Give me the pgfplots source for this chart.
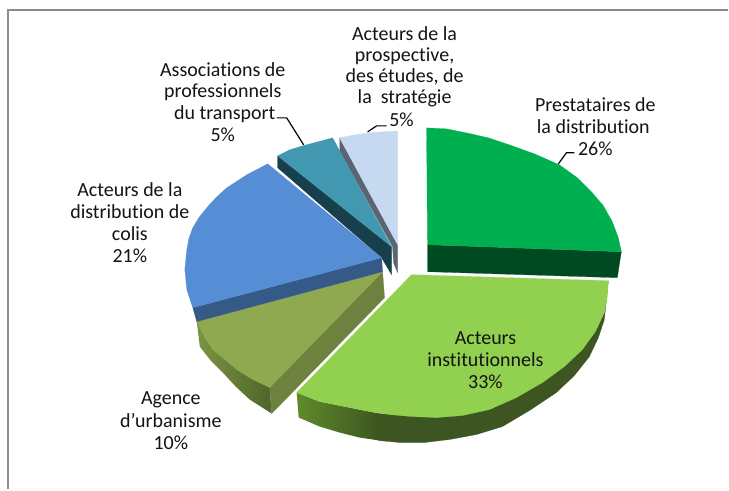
\documentclass[border=0pt]{standalone}
\usepackage{pgfplots}
\pgfplotsset{compat=1.18}
\usepackage{fontspec}
\setmainfont{Carlito}[RawFeature={-liga;-clig}]
\definecolor{cGreen}{HTML}{00B050}
\definecolor{cGreenD}{HTML}{004A22}
\definecolor{cLime}{HTML}{92D050}
\definecolor{cLimeD}{HTML}{3D5520}
\definecolor{cLimeL}{HTML}{5F8A2B}
\definecolor{cOlive}{HTML}{8EA950}
\definecolor{cOliveS}{HTML}{6F813F}
\definecolor{cOliveA}{HTML}{7A9444}
\definecolor{cOliveB}{HTML}{4F652B}
\definecolor{cBlue}{HTML}{558ED5}
\definecolor{cBlueD}{HTML}{355A87}
\definecolor{cTeal}{HTML}{4298B0}
\definecolor{cTealD}{HTML}{17404C}
\definecolor{cSky}{HTML}{C6D9F1}
\definecolor{cGray}{HTML}{5A6472}
\definecolor{cFrame}{HTML}{8C8C8C}
\definecolor{cText}{HTML}{141414}
\newcommand{\lab}[3]{\node[text=cText,font=\fontsize{20}{22}\selectfont,anchor=center,inner sep=0pt] at (axis cs:#1,#2) {#3};}
\begin{document}
\begin{tikzpicture}
\begin{axis}[width=729pt,height=490pt,scale only axis,hide axis,
 xmin=0,xmax=729,ymin=0,ymax=490,y dir=reverse,clip=false]
% page
\addplot[fill=white,draw=none] coordinates {(0,0)(729,0)(729,490)(0,490)} --cycle;
% frame
\addplot[cFrame,line width=1.6pt] coordinates {(8,490)(8,10)(729,10)};
% sky blue slice
\addplot[fill=cGray,draw=cGray,line width=.2pt] coordinates {(340,138)(340,151)(393,247)(394,263)(398,273)(398,245)} --cycle;
\addplot[fill=cSky,draw=cSky,line width=.2pt] coordinates {(340,138)(355,135)(368,133)(383,132)(398,131)(398,245)} --cycle;
% teal slice
\addplot[fill=cTealD,draw=cTealD,line width=.2pt] coordinates {(278,156)(278,168)(382,258)(392,275)(392,247)} --cycle;
\addplot[fill=cTeal,draw=cTeal,line width=.2pt] coordinates {(278,156)(290,150)(303,146)(318,142)(333,138)(392,247)} --cycle;
% olive slice
\addplot[draw=none,left color=cOliveA,right color=cOliveB] coordinates {(197,322)(200,347)(211,361)(223,373)(236,387)(250,400)(272,414)(270,388)} --cycle;
\addplot[fill=cOliveS,draw=cOliveS,line width=.2pt] coordinates {(383,272)(385,298)(272,414)(270,388)} --cycle;
\addplot[fill=cOlive,draw=cOlive,line width=.2pt] coordinates {(197,322)(205,338)(213,350)(225,360)(237,370)(253,380)(270,388)(383,272)} --cycle;
% blue slice
\addplot[fill=cBlueD,draw=cBlueD,line width=.2pt] coordinates {(193,308)(197,322)(383,272)(382,258)} --cycle;
\addplot[fill=cBlue,draw=cBlue,line width=.2pt] coordinates {(268,164)(247,175)(227,188)(216,198)(207,208)(199,218)(193,228)(189,239)(187,250)(185,270)(187,290)(193,308)(382,258)} --cycle;
% lime slice
\addplot[draw=none,left color=cLimeL,right color=cLimeD] coordinates {(297,393)(299,418)(320,427)(340,433)(360,438)(380,441)(380,414)(350,408)(320,402)} --cycle;
\addplot[fill=cLimeD,draw=cLimeD,line width=.2pt] coordinates {(379,414)(379,441)(400,443)(425,443)(450,440)(477,435)(503,427)(530,411)(557,393)(575,376)(590,357)(599,338)(605,320)(609,281)(605,313)(583,350)(543,383)(490,410)(437,418)} --cycle;
\addplot[fill=cLime,draw=cLime,line width=.2pt] coordinates {(412,275)(609,281)(608,297)(605,313)(596,332)(583,350)(565,367)(543,383)(517,398)(490,410)(463,416)(437,418)(412,417)(390,415)(370,412)(350,408)(320,402)(297,393)} --cycle;
% green slice
\addplot[fill=cGreenD,draw=cGreenD,line width=.2pt] coordinates {(428,245)(622,252)(618,278)(428,272)} --cycle;
\addplot[fill=cGreen,draw=cGreen,line width=.2pt] coordinates {(427,128)(447,129)(467,133)(489,138)(510,145)(535,154)(560,165)(578,178)(593,193)(604,206)(613,222)(619,238)(622,252)(428,245)} --cycle;
% leader lines
\addplot[black,line width=1.2pt] coordinates {(277,118)(287,118)(304,145)};
\addplot[black,line width=1.2pt] coordinates {(368,132)(377,126)(387,126)};
\addplot[black,line width=1.2pt] coordinates {(559,164)(567,153)(575,153)};
% labels
\lab{405}{34}{Acteurs de la}
\lab{405}{56}{prospective,}
\lab{405}{77}{des études, de}
\lab{405}{98}{la\ \ stratégie}
\lab{402}{120}{5\%}
\lab{596}{105}{Prestataires de}
\lab{594}{127}{la distribution}
\lab{596}{149}{26\%}
\lab{223}{70}{Associations de}
\lab{223}{92}{professionnels}
\lab{225}{114}{du transport}
\lab{223}{135}{5\%}
\lab{130}{190}{Acteurs de la}
\lab{130}{212}{distribution de}
\lab{130}{234}{colis}
\lab{130}{256}{21\%}
\lab{171}{400}{Agence}
\lab{171}{421}{d’urbanisme}
\lab{171}{443}{10\%}
\lab{486}{339}{Acteurs}
\lab{486}{360}{institutionnels}
\lab{486}{382}{33\%}
\end{axis}
\end{tikzpicture}
\end{document}
